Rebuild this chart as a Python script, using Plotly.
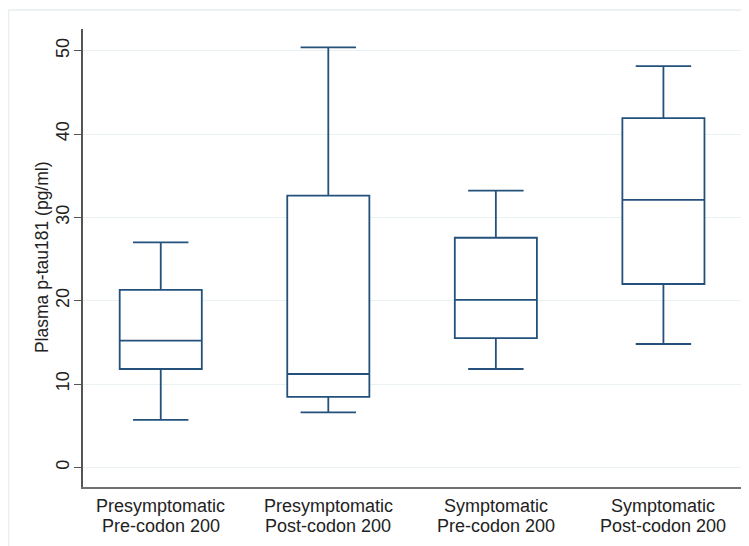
import plotly.graph_objects as go

categories = ["Presymptomatic<br>Pre-codon 200", "Presymptomatic<br>Post-codon 200",
              "Symptomatic<br>Pre-codon 200", "Symptomatic<br>Post-codon 200"]
label_line1 = ["Presymptomatic", "Presymptomatic", "Symptomatic", "Symptomatic"]
label_line2 = ["Pre-codon 200", "Post-codon 200", "Pre-codon 200", "Post-codon 200"]
lower_whisker = [5.7, 6.6, 11.8, 14.8]
q1_vals = [11.8, 8.45, 15.5, 22.0]
median_vals = [15.2, 11.2, 20.1, 32.1]
q3_vals = [21.3, 32.6, 27.55, 41.9]
upper_whisker = [27.0, 50.4, 33.2, 48.15]
y_ticks = [0, 10, 20, 30, 40, 50]

FONT = "Liberation Sans, Arial, sans-serif"
NAVY = "#24517c"

fig = go.Figure()
fig.add_trace(go.Box(
    x=categories,
    q1=q1_vals, median=median_vals, q3=q3_vals,
    lowerfence=lower_whisker, upperfence=upper_whisker,
    line=dict(color=NAVY, width=1.8),
    fillcolor="white",
    width=0.49,
    whiskerwidth=0.675,
    boxpoints=False,
    showlegend=False,
))

# page body has an 8px margin, so the figure starts at (8, 8) in the window
OFF = 8
W, H = 749 - OFF, 546 - OFF
L, R, T, B = 83 - OFF, 8, 29 - OFF, 59
pw, ph = W - L - R, H - T - B

def px_x(p):
    return (p - OFF - L) / pw

def px_y(p):
    return (H - B - (p - OFF)) / ph

annotations = []
for i, (a, b) in enumerate(zip(label_line1, label_line2)):
    annotations.append(dict(x=categories[i], y=px_y(506.5), xref="x", yref="paper",
                            text=a, showarrow=False, yanchor="middle",
                            font=dict(family=FONT, size=18, color="#222")))
    annotations.append(dict(x=categories[i], y=px_y(525.5), xref="x", yref="paper",
                            text=b, showarrow=False, yanchor="middle",
                            font=dict(family=FONT, size=18, color="#222")))
annotations.append(dict(x=px_x(42), y=0.502, xref="paper", yref="paper",
                        text="Plasma p-tau181 (pg/ml)", textangle=-90, showarrow=False,
                        xanchor="center", yanchor="middle",
                        font=dict(family=FONT, size=17.5, color="#222")))

shapes = [
    dict(type="line", xref="paper", yref="paper", x0=px_x(8), x1=px_x(749),
         y0=px_y(10), y1=px_y(10), line=dict(color="#e6eef0", width=1.5)),
    dict(type="line", xref="paper", yref="paper", x0=px_x(8.5), x1=px_x(8.5),
         y0=px_y(10), y1=px_y(546), line=dict(color="#e6eef0", width=1.5)),
]

fig.update_layout(
    width=W, height=H,
    margin=dict(l=L, r=R, t=T, b=B, autoexpand=False),
    paper_bgcolor="white", plot_bgcolor="white",
    font=dict(family=FONT, size=18, color="#222"),
    annotations=annotations,
    shapes=shapes,
    xaxis=dict(
        type="category", range=[-0.464, 3.463],
        showticklabels=False, ticks="", showgrid=False, zeroline=False,
        showline=True, linecolor="#707070", linewidth=2,
    ),
    yaxis=dict(
        range=[-2.36, 52.6], tickvals=y_ticks, ticktext=[str(v) for v in y_ticks],
        tickangle=-90, ticks="outside", ticklen=7, tickcolor="#555", tickwidth=1.2,
        tickfont=dict(family=FONT, size=18, color="#222"),
        showgrid=True, gridcolor="#eaf1f3", gridwidth=1, zeroline=False,
        showline=True, linecolor="#555", linewidth=1.5,
        ticklabelstandoff=-2,
    ),
)

fig.write_html("out.html")
